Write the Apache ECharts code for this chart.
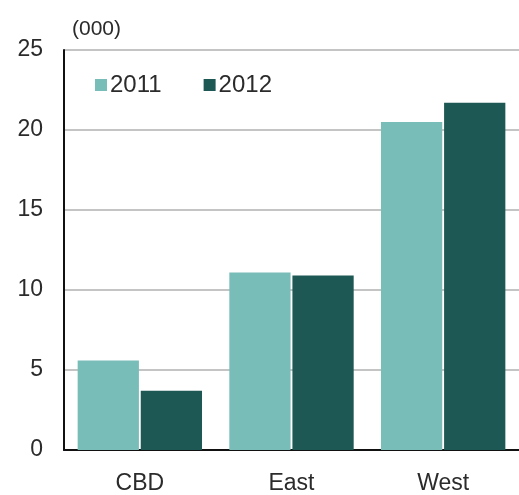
<!DOCTYPE html>
<html>
<head>
<meta charset="utf-8">
<script src="https://cdn.jsdelivr.net/npm/echarts@6/dist/echarts.min.js"></script>
<style>
  html, body { margin: 0; padding: 0; background: #fff; }
  #chart { width: 519px; height: 495px; }
</style>
</head>
<body>
<div id="chart"></div>
<script>
// Regions and yearly values (thousands)
const categories = ['CBD', 'East', 'West'];
const series2011 = [5.6, 11.1, 20.5];
const series2012 = [3.7, 10.9, 21.7];
const yTicks = [0, 5, 10, 15, 20, 25];

const chart = echarts.init(document.getElementById('chart'));
const font = 'Liberation Sans, Arial, sans-serif';

chart.setOption({
  animation: false,
  backgroundColor: '#ffffff',
  grid: { left: 64, right: 0, top: 50, bottom: 44, containLabel: false },
  legend: {
    data: ['2011', '2012'],
    left: 90, top: 68,
    itemWidth: 12, itemHeight: 12, itemGap: 42,
    icon: 'rect',
    textStyle: { fontFamily: font, fontSize: 24, color: '#2b2b2b', padding: [0, 0, 0, -2] }
  },
  graphic: [{
    type: 'text', left: 72, top: 19,
    style: { text: '(000)', fontFamily: font, fontSize: 21, fill: '#2b2b2b' }
  }],
  xAxis: {
    type: 'category',
    data: categories,
    axisLine: { lineStyle: { color: '#111', width: 2 } },
    axisTick: { show: false },
    axisLabel: { fontFamily: font, fontSize: 23, color: '#2b2b2b', margin: 22 }
  },
  yAxis: {
    type: 'value',
    min: yTicks[0], max: yTicks[yTicks.length - 1], interval: 5,
    axisLine: { show: true, lineStyle: { color: '#111', width: 2 } },
    axisTick: { show: false },
    axisLabel: { fontFamily: font, fontSize: 23, color: '#2b2b2b', margin: 21 },
    splitLine: { lineStyle: { color: '#b0b0b0', width: 1.5 } }
  },
  series: [
    {
      name: '2011', type: 'bar', data: series2011,
      itemStyle: { color: '#79bdb9' },
      barGap: '3%', barCategoryGap: '18%'
    },
    {
      name: '2012', type: 'bar', data: series2012,
      itemStyle: { color: '#1e5854' },
      barGap: '3%', barCategoryGap: '18%'
    }
  ]
});
</script>
</body>
</html>
